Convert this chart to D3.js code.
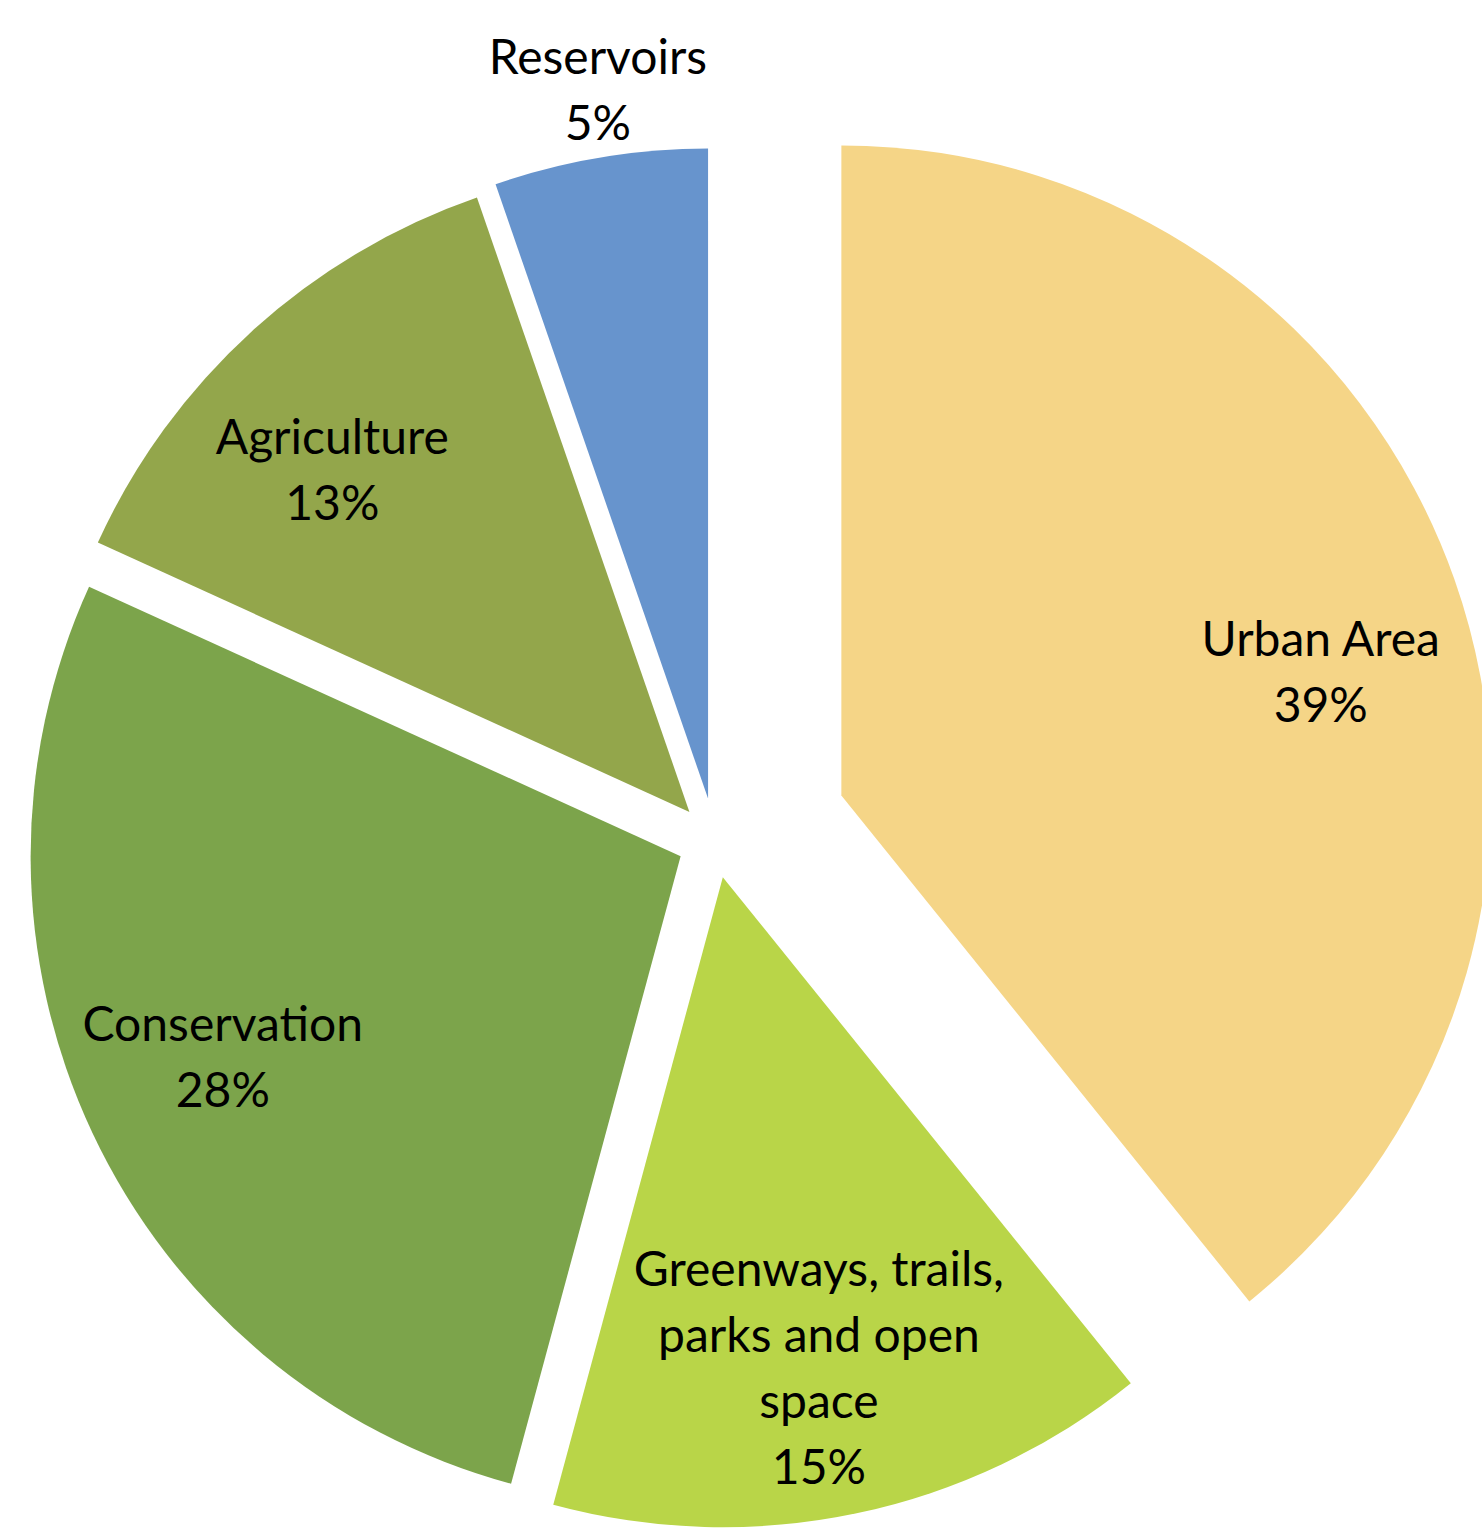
<!DOCTYPE html>
<html><head><meta charset="utf-8">
<script src="https://cdn.jsdelivr.net/npm/d3@7"></script>
<style>html,body{margin:0;padding:0;background:#fff;overflow:hidden}</style>
</head><body>
<svg id="chart" width="1482" height="1529"></svg>
<script>
const categories = ["Urban Area", "Greenways, trails, parks and open space", "Conservation", "Agriculture", "Reservoirs"];
const labelLines = [["Urban Area"], ["Greenways, trails,", "parks and open", "space"], ["Conservation"], ["Agriculture"], ["Reservoirs"]];
const values = [39.2, 15.0, 27.6, 12.9, 5.3];
const colors = ["#F5D587", "#B9D548", "#7CA44B", "#93A64B", "#6794CD"];

const svg = d3.select("#chart");
const cx = 715, cy = 840, R = 650;
const explode = [134, 38, 38, 38, 42];
const labelDist = [495, 500, 500, 494, 717];
const labelAngleAdj = [5, 0.8, 1.5, -4, 0.7];
const fontSize = 48, lineH = 66;

const pie = d3.pie().sort(null).value(d => d)(values);
const arc = d3.arc().innerRadius(0).outerRadius(R);

const g = svg.append("g").attr("transform", `translate(${cx},${cy})`);
pie.forEach((p, i) => {
  const mid = (p.startAngle + p.endAngle) / 2;
  const ox = Math.sin(mid) * explode[i], oy = -Math.cos(mid) * explode[i];
  const sg = g.append("g").attr("transform", `translate(${ox},${oy})`);
  sg.append("path").attr("d", arc(p)).attr("fill", colors[i]);
  const la = mid + labelAngleAdj[i] * Math.PI / 180;
  const lx = Math.sin(la) * labelDist[i], ly = -Math.cos(la) * labelDist[i];
  const lines = labelLines[i].concat([Math.round(values[i]) + "%"]);
  const t = sg.append("text")
    .attr("text-anchor", "middle")
    .attr("font-family", "Lato, 'Open Sans', sans-serif")
    .attr("font-size", fontSize)
    .attr("fill", "#000");
  const n = lines.length;
  lines.forEach((ln, k) => {
    t.append("tspan").attr("x", lx)
      .attr("y", ly + (k - (n - 1) / 2) * lineH)
      .attr("dy", "0.35em").text(ln);
  });
});
</script>
</body></html>
